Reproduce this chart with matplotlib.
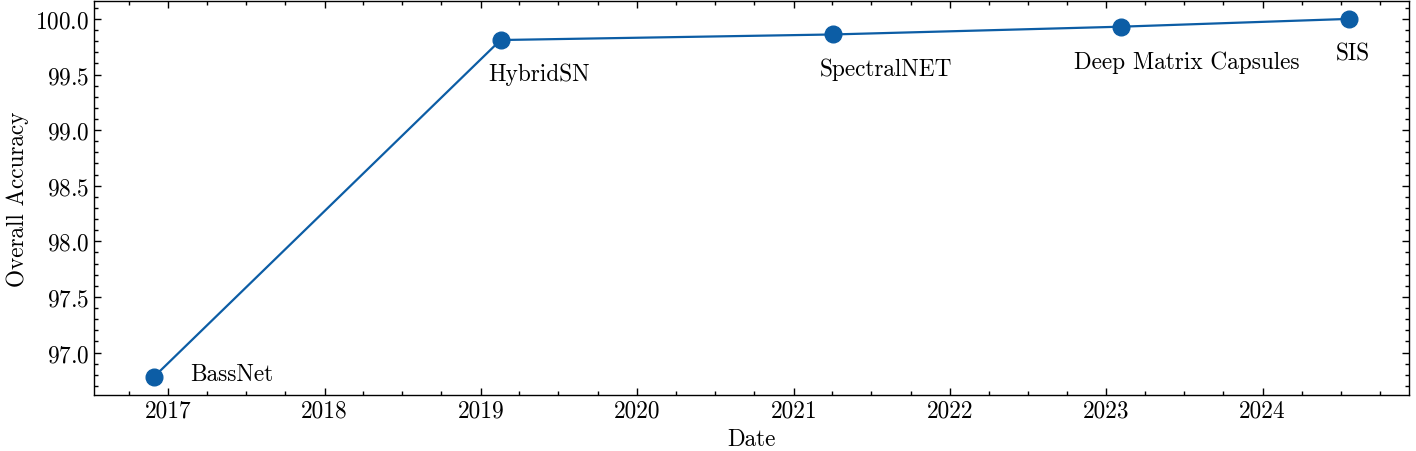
import datetime
import matplotlib
matplotlib.use("Agg")
import matplotlib.pyplot as plt
import matplotlib.dates as mdates
from matplotlib.ticker import AutoMinorLocator

# data
models = ["BassNet", "HybridSN", "SpectralNET", "Deep Matrix Capsules", "SIS"]
dates = ["2016-11-28", "2019-02-16", "2021-04-02", "2023-02-05", "2024-07-21"]
accuracy = [96.78, 99.81, 99.86, 99.93, 100.0]

# label offsets (pixels) from each point
label_dx = [36, -12, -13, -47, -13]
label_dy = [-3, -40, -41, -41, -41]

plt.rcParams["font.family"] = "serif"
plt.rcParams["font.serif"] = ["cmr10", "DejaVu Serif"]
plt.rcParams["mathtext.fontset"] = "cm"
plt.rcParams["axes.formatter.use_mathtext"] = True
plt.rcParams["font.size"] = 16.8

x = [datetime.datetime.strptime(d, "%Y-%m-%d") for d in dates]

fig = plt.figure(figsize=(14.16, 4.52), dpi=100)
ax = fig.add_axes([0.0664, 0.124, 0.9286, 0.8716])

ax.plot(x, accuracy, color="#0C5DA5", linewidth=1.6, marker="o", markersize=12)

for name, xi, yi, dx, dy in zip(models, x, accuracy, label_dx, label_dy):
    ax.annotate(name, (xi, yi), xytext=(dx, dy), textcoords="offset pixels",
                ha="left", va="baseline")

ax.xaxis.set_major_locator(mdates.YearLocator())
ax.xaxis.set_minor_locator(mdates.MonthLocator(bymonth=[4, 7, 10]))
ax.xaxis.set_major_formatter(mdates.DateFormatter("%Y"))
ax.yaxis.set_minor_locator(AutoMinorLocator(5))

ax.tick_params(which="both", direction="in", top=True, right=True, width=1.0)
ax.tick_params(which="major", length=5)
ax.tick_params(which="minor", length=2.6)
for s in ax.spines.values():
    s.set_linewidth(1.0)

ax.set_xlabel("Date")
ax.set_ylabel("Overall Accuracy")

fig.savefig("out.png", dpi=100)
plt.close(fig)
